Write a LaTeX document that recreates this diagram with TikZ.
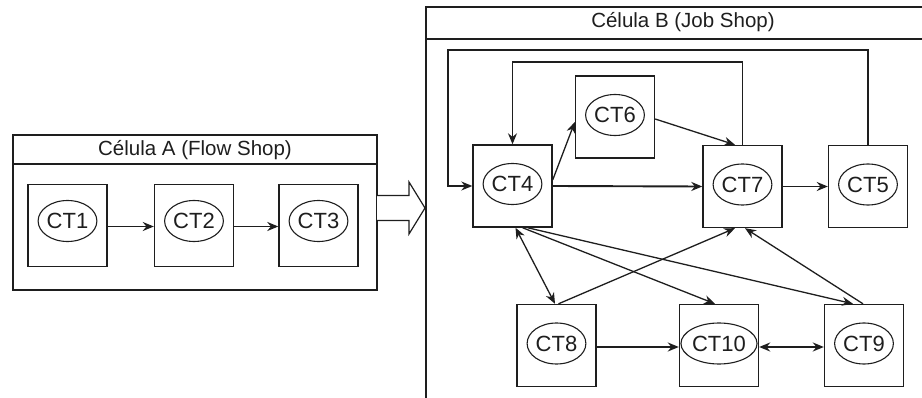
\documentclass[tikz,border=0pt]{standalone}
\usepackage{fontspec}
\setmainfont{Liberation Sans}
\usetikzlibrary{arrows.meta,calc,shapes.geometric}
\definecolor{ink}{HTML}{1E1E1E}
\tikzset{
  wc/.style={draw=ink,line width=1.4pt,minimum width=79pt,minimum height=82pt,inner sep=0pt},
  lbl/.style={draw=ink,ellipse,line width=1.1pt,inner sep=0pt,text=ink,minimum width=56pt,minimum height=41pt,font=\fontsize{22}{24}\selectfont},
  ttl/.style={font=\fontsize{20.5}{24}\selectfont,text=ink},
  cell/.style={draw=ink,line width=1.4pt},
  thk/.style={draw=ink,line width=1.9pt,-{Stealth[length=11pt,width=9pt]}},
  thn/.style={draw=ink,line width=1.3pt,-{Stealth[length=11pt,width=9pt]}},
  thnb/.style={draw=ink,line width=1.3pt,{Stealth[length=11pt,width=9pt]}-{Stealth[length=11pt,width=9pt]}},
  thkb/.style={draw=ink,line width=1.9pt,{Stealth[length=11pt,width=9pt]}-{Stealth[length=11pt,width=9pt]}},
}
\begin{document}
\begin{tikzpicture}[x=1pt,y=-1pt]
\useasboundingbox (0,0) rectangle (922,398);
\clip (0,0) rectangle (922,398);
% Cell A
\draw[cell] (13,135) rectangle (377,290);
\draw[ink,line width=2pt] (13,164) -- (377,164);
\node[ttl] (ta) at (195,150) {Célula A (Flow Shop)};
\foreach \n/\x in {1/67.5,2/194,3/318.5}{
  \node[wc] (ct\n) at (\x,225.5) {};
  \node[lbl] (e\n) at (\x,221) {CT\n};
}
\draw[thk] ([yshift=-1pt]ct1.east) -- ([yshift=-1pt]ct2.west);
\draw[thk] ([yshift=-1pt]ct2.east) -- ([yshift=-1pt]ct3.west);
% hollow arrow
\draw[ink,line width=1.2pt,fill=white] (377,195.5) -- (409,195.5) -- (409,182) -- (425,208) -- (409,234) -- (409,220.5) -- (377,220.5);
% Cell B
\draw[cell] (426,7) rectangle (940,420);
\draw[ink,line width=2pt] (426,39) -- (940,39);
\node[ttl] (tb) at (683,22) {Célula B (Job Shop)};
\foreach \n/\x/\y in {4/512.5/186,6/615/117,7/742.5/186.5,5/868/186.5,8/556.5/345.5,10/719/345.5,9/864/345.5}{
  \node[wc] (ct\n) at (\x,\y) {};
  \node[lbl] (e\n) at (\x,\y-2) {CT\n};
}
\coordinate (o1) at (448,50);
\coordinate (i1) at (512.5,62);
\draw[thn] (ct5.north) |- (o1) |- (ct4.west);
\draw[thn] (ct7.north) |- (i1) -- (ct4.north);
\draw[thn] ([yshift=6pt]ct4.east) -- ([yshift=-5pt]ct6.west);
\draw[thn] ([yshift=-2pt]ct6.east) -- ([xshift=-7.5pt]ct7.north);
\draw[thk] (ct4.east) -- (ct7.west);
\draw[thk] (ct7.east) -- (ct5.west);
\draw[thnb] ([xshift=3pt]ct4.south) -- ([xshift=-1.5pt]ct8.north);
\draw[thn] ([xshift=10pt]ct4.south) -- ([xshift=-4pt]ct10.north);
\draw[thn] ([xshift=15pt]ct4.south) -- ([xshift=-11pt]ct9.north);
\draw[thn] ([xshift=2pt]ct8.north) -- ([xshift=-7.5pt]ct7.south);
\draw[thn] ([xshift=-1pt]ct9.north) -- ([xshift=2.5pt]ct7.south);
\draw[thk] ([yshift=-1.5pt]ct8.east) -- ([yshift=-1.5pt]ct10.west);
\draw[thkb] ([yshift=-1.5pt]ct10.east) -- ([yshift=-1.5pt]ct9.west);
\end{tikzpicture}
\end{document}
